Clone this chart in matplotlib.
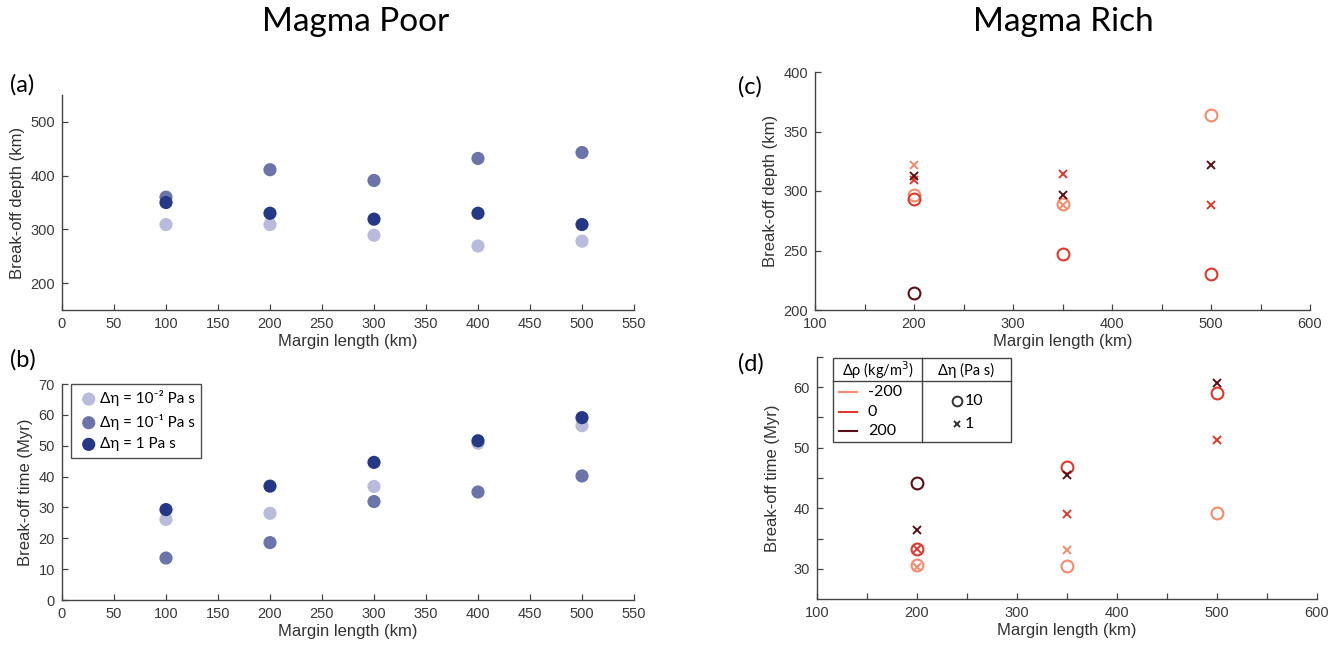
import numpy as np
import matplotlib
matplotlib.use("Agg")
import matplotlib.pyplot as plt
from matplotlib.lines import Line2D
from matplotlib.patches import Rectangle

plt.rcParams['font.family'] = ['Liberation Sans', 'DejaVu Sans']

# ---------------- data: magma poor ----------------
margin_poor = [100, 200, 300, 400, 500]
eta_labels_poor = ["Δη = 10⁻² Pa s", "Δη = 10⁻¹ Pa s", "Δη = 1 Pa s"]
depth_eta_m2 = [309, 309, 289, 269, 278]
depth_eta_m1 = [360, 411, 391, 432, 443]
depth_eta_0 = [350, 330, 319, 330, 309]
time_eta_m2 = [26.1, 28.1, 36.8, 50.8, 56.5]
time_eta_m1 = [13.6, 18.6, 31.9, 35.0, 40.2]
time_eta_0 = [29.3, 36.9, 44.6, 51.6, 59.1]
poor_colors = ["#b9bbdc", "#6b74a8", "#253886"]

# ---------------- data: magma rich ----------------
margin_rich = [200, 350, 500]
drho_values = ["-200", "0", "200"]
deta_values = ["10", "1"]
nan = np.nan
# circles: Δη = 10 Pa s ; crosses: Δη = 1 Pa s
depth_circle_m200 = [297, 289, 363.5]
depth_circle_0 = [293, 247, 230]
depth_circle_200 = [214, nan, nan]
depth_cross_m200 = [322, 288.6, nan]
depth_cross_0 = [309, 314, 288.6]
depth_cross_200 = [313, 297, 322]
time_circle_m200 = [30.7, 30.45, 39.25]
time_circle_0 = [33.3, 46.8, 59.1]
time_circle_200 = [44.1, nan, nan]
time_cross_m200 = [30.3, 33.1, nan]
time_cross_0 = [33.3, 39.0, 51.3]
time_cross_200 = [36.4, 45.5, 60.7]
rich_colors = ["#f58a6c", "#e0382c", "#5a1016"]

W, H = 1336, 648
fig = plt.figure(figsize=(W / 100, H / 100), dpi=100)

def px_axes(l, r, t, b):
    return fig.add_axes([l / W, 1 - b / H, (r - l) / W, (b - t) / H])

axis_col = "#444444"
lab_fs = 12

def style(ax):
    for s in ["top", "right"]:
        ax.spines[s].set_visible(False)
    for s in ["left", "bottom"]:
        ax.spines[s].set_color(axis_col)
        ax.spines[s].set_linewidth(1.0)
    ax.tick_params(direction="in", length=4, width=0.9, colors=axis_col,
                   labelsize=10.5, labelcolor="#3a3a3a", pad=5)
    ax.tick_params(which="minor", direction="in", length=4, width=0.9, colors=axis_col)

ax_a = px_axes(62, 634, 95, 310)
ax_b = px_axes(62, 634, 384, 600)
ax_c = px_axes(815, 1310, 72, 310)
ax_d = px_axes(817, 1317, 357, 599)

ms = 90
poor_depth = [depth_eta_m2, depth_eta_m1, depth_eta_0]
poor_time = [time_eta_m2, time_eta_m1, time_eta_0]
for vals, col, lab in zip(poor_depth, poor_colors, eta_labels_poor):
    ax_a.scatter(margin_poor, vals, s=ms, color=col, edgecolors="none", label=lab, zorder=3)
for vals, col, lab in zip(poor_time, poor_colors, eta_labels_poor):
    ax_b.scatter(margin_poor, vals, s=ms, color=col, edgecolors="none", label=lab, zorder=3)

for ax in (ax_a, ax_b):
    style(ax)
    ax.set_xlim(0, 550)
    ax.set_xticks(np.arange(0, 551, 50))
    ax.set_xlabel("Margin length (km)", fontsize=lab_fs, color="#333333", labelpad=2)
ax_a.set_ylim(150, 550)
ax_a.set_yticks([200, 300, 400, 500])
ax_a.set_ylabel("Break-off depth (km)", fontsize=lab_fs, color="#333333", labelpad=4)
ax_b.set_ylim(0, 70)
ax_b.set_yticks(np.arange(0, 71, 10))
ax_b.set_ylabel("Break-off time (Myr)", fontsize=lab_fs, color="#333333", labelpad=4)

leg = ax_b.legend(loc="upper left", bbox_to_anchor=(0.016, 1.0), frameon=True, fancybox=False,
                  edgecolor="#222222", handletextpad=0.0, borderpad=0.4, borderaxespad=0.0,
                  labelspacing=0.5, handlelength=1.5, markerscale=1.0,
                  prop={'family': ['Lato', 'DejaVu Sans'], 'size': 11})
leg.get_frame().set_linewidth(1.0)

# rich panels
c_depth = [depth_circle_m200, depth_circle_0, depth_circle_200]
x_depth = [depth_cross_m200, depth_cross_0, depth_cross_200]
c_time = [time_circle_m200, time_circle_0, time_circle_200]
x_time = [time_cross_m200, time_cross_0, time_cross_200]
for ax, cs, xs in ((ax_c, c_depth, x_depth), (ax_d, c_time, x_time)):
    for vals, col in zip(cs, rich_colors):
        ax.plot(margin_rich, vals, ls="none", marker="o", ms=8.5, mfc="none", mec=col, mew=1.5, zorder=3)
    for vals, col in zip(xs, rich_colors):
        ax.plot(margin_rich, vals, ls="none", marker="x", ms=5.2, mec=col, mew=1.4, zorder=4)
    style(ax)
    ax.set_xlim(100, 600)
    ax.set_xticks([100, 200, 300, 400, 500, 600])
    ax.set_xticks(np.arange(150, 600, 100), minor=True)
    ax.set_xlabel("Margin length (km)", fontsize=lab_fs, color="#333333", labelpad=2)

ax_c.set_ylim(200, 400)
ax_c.set_yticks([200, 250, 300, 350, 400])
ax_c.set_ylabel("Break-off depth (km)", fontsize=lab_fs, color="#333333", labelpad=4)
ax_d.set_ylim(25, 65)
ax_d.set_yticks([30, 40, 50, 60])
ax_d.set_yticks([35, 45, 55, 65], minor=True)
ax_d.set_ylabel("Break-off time (Myr)", fontsize=lab_fs, color="#333333", labelpad=10)

# table-style legend in (d)
tf = ax_d.transAxes
box_l, box_r, box_b, box_t = 0.032, 0.388, 0.649, 0.996
ax_d.add_patch(Rectangle((box_l, box_b), box_r - box_l, box_t - box_b, transform=tf,
                         fill=False, edgecolor="#444444", lw=1.0, clip_on=False, zorder=5))
ax_d.add_line(Line2D([box_l, box_r], [0.901, 0.901], transform=tf, color="#444444", lw=1.0, clip_on=False))
ax_d.add_line(Line2D([0.21, 0.21], [box_b, box_t], transform=tf, color="#444444", lw=1.0, clip_on=False))
lf = ['Lato', 'DejaVu Sans']
ax_d.text(0.122, 0.945, "Δρ (kg/m$^3$)", transform=tf, ha="center", va="center", fontsize=10.5, family=lf)
ax_d.text(0.299, 0.945, "Δη (Pa s)", transform=tf, ha="center", va="center", fontsize=10.5, family=lf)
for yy, col, lab in zip([0.855, 0.774, 0.694], rich_colors, drho_values):
    ax_d.add_line(Line2D([0.044, 0.08], [yy, yy], transform=tf, color=col, lw=1.5, clip_on=False))
    ax_d.text(0.102, yy, lab, transform=tf, ha="left", va="center", fontsize=11.5, family=lf)
for yy, mk, lab, msz in zip([0.818, 0.723], ["o", "x"], deta_values, [7, 5]):
    ax_d.add_line(Line2D([0.28], [yy], transform=tf, marker=mk, ms=msz, mfc="none",
                         mec="#333333", mew=1.4, ls="none", clip_on=False))
    ax_d.text(0.296, yy, lab, transform=tf, ha="left", va="center", fontsize=11.5, family=lf)

# titles and panel labels
tfont = ['Lato', 'DejaVu Sans']
fig.text(356 / W, 1 - 22 / H, "Magma Poor", ha="center", va="center", fontsize=24, family=tfont)
fig.text(1063 / W, 1 - 22 / H, "Magma Rich", ha="center", va="center", fontsize=24, family=tfont)
for x, y, lab in [(10, 85, "(a)"), (10, 360, "(b)"), (738, 87, "(c)"), (738, 364, "(d)")]:
    fig.text(x / W, 1 - y / H, lab, ha="left", va="center", fontsize=17, family=tfont)

fig.savefig("out.png", dpi=100)
